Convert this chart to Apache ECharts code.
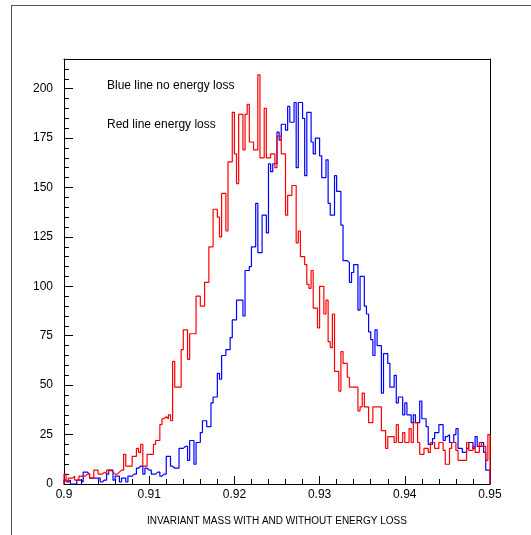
<!DOCTYPE html>
<html>
<head>
<meta charset="utf-8">
<script src="https://cdn.jsdelivr.net/npm/echarts@6/dist/echarts.min.js"></script>
<style>
html,body{margin:0;padding:0;background:#fff;}
#c{width:531px;height:535px;}
</style>
</head>
<body>
<div id="c"></div>
<script>
// Histogram: 200 bins from 0.9 to 0.95 (bin width 0.00025)
const binStart = 0.9;
const binEnd = 0.95;
const binCount = 200;
const xTickLabels = ['0.9', '0.91', '0.92', '0.93', '0.94', '0.95'];
const yTickLabels = ['0', '25', '50', '75', '100', '125', '150', '175', '200'];
const xTitle = 'INVARIANT MASS WITH AND WITHOUT ENERGY LOSS';
const noteBlue = 'Blue line no energy loss';
const noteRed = 'Red line energy loss';

// Blue: no energy loss
const blueCounts = [
  2,1,2,0,0,0,2,2,1,6, 6,5,3,3,3,3,3,1,2,2,
  5,7,7,2,4,4,1,3,3,1, 4,4,5,5,8,9,9,5,8,7,
  7,5,5,6,6,4,5,5,14,14, 9,8,8,8,18,18,19,19,12,22,
  22,10,21,21,26,32,32,29,29,41, 44,44,56,53,65,65,68,68,74,83,
  83,93,93,93,85,108,108,110,120,120, 142,117,117,136,136,127,162,158,162,162,
  178,174,182,182,179,191,183,183,193,160, 193,193,185,156,188,188,173,167,175,175,
  166,155,155,164,142,136,136,156,148,148, 131,113,113,112,102,107,111,111,88,105,
  105,90,86,77,73,65,78,70,70,46, 66,66,61,49,49,55,41,44,44,35,
  41,35,35,31,35,31,31,42,33,33, 29,20,20,23,26,26,30,30,22,24,
  25,21,21,25,28,18,18,16,16,18, 21,21,18,24,19,19,21,16,7,7
];

// Red: with energy loss
const redCounts = [
  5,1,3,3,4,2,2,4,4,4, 5,5,3,3,7,7,5,5,6,5,
  7,7,6,5,5,6,7,7,15,9, 9,9,14,14,18,16,20,9,9,15,
  15,15,20,22,22,30,33,34,33,35, 32,62,49,49,49,68,78,78,63,76,
  76,76,95,95,90,90,102,102,120,120, 139,139,135,125,147,147,128,163,163,188,
  167,152,187,187,169,187,192,173,173,169, 169,207,165,165,190,165,165,167,167,160,
  176,176,167,167,136,146,146,151,151,122, 128,115,115,111,101,99,108,89,89,79,
  100,100,86,93,72,69,86,57,57,47, 67,61,61,54,49,49,49,49,37,39,
  46,39,39,31,31,39,39,39,39,27, 27,18,24,24,24,21,30,21,21,26,
  21,21,28,21,31,31,21,15,15,18, 18,16,21,21,18,18,21,21,17,10,
  10,18,21,21,17,12,12,12,12,21, 17,17,19,16,16,21,19,19,12,25
];

function histPoints(counts) {
  const w = (binEnd - binStart) / binCount;
  const pts = [[binStart, 0]];
  for (let i = 0; i < counts.length; i++) {
    pts.push([+(binStart + i * w).toFixed(6), counts[i]]);
  }
  pts.push([binEnd, counts[counts.length - 1]]);
  pts.push([binEnd, 0]);
  return pts;
}

const FONT = 'Liberation Sans, Arial, Helvetica, sans-serif';
const chart = echarts.init(document.getElementById('c'), null, {renderer: 'canvas'});
function ls(c, w) { return {color: c, width: w}; }

chart.setOption({
  animation: false,
  backgroundColor: '#ffffff',
  grid: {left: 64, right: 41, top: 59, bottom: 51},
  xAxis: [{
    type: 'value', min: 0.9, max: 0.95, interval: 0.01, position: 'bottom',
    name: xTitle, nameLocation: 'middle', nameGap: 32,
    nameTextStyle: {fontFamily: FONT, fontSize: 10, color: '#000'},
    axisLine: {show: true, onZero: false, lineStyle: ls('#000', 1)},
    axisTick: {show: true, inside: true, length: 8, lineStyle: ls('#000', 1)},
    minorTick: {show: true, splitNumber: 5, length: 5, lineStyle: ls('#000', 1)},
    splitLine: {show: false},
    axisLabel: {
      fontFamily: FONT, fontSize: 12, color: '#000', margin: 5,
      formatter: function (v) {
        const idx = Math.round((v - 0.9) / 0.01);
        return xTickLabels[idx] !== undefined ? xTickLabels[idx] : '';
      }
    }
  }, {
    type: 'value', min: 0.9, max: 0.95, position: 'top',
    axisLine: {show: true, onZero: false, lineStyle: ls('#000', 1)},
    axisTick: {show: false}, axisLabel: {show: false}, splitLine: {show: false}
  }],
  yAxis: [{
    type: 'value', min: 0, max: 215, interval: 25, position: 'left',
    axisLine: {show: true, onZero: false, lineStyle: ls('#000', 1)},
    axisTick: {show: true, inside: true, length: 9, lineStyle: ls('#000', 1)},
    minorTick: {show: true, splitNumber: 5, length: 5, lineStyle: ls('#000', 1)},
    splitLine: {show: false},
    axisLabel: {
      fontFamily: FONT, fontSize: 12, color: '#000', margin: 11, showMaxLabel: false,
      formatter: function (v) {
        const idx = Math.round(v / 25);
        return (v % 25 === 0 && yTickLabels[idx] !== undefined) ? yTickLabels[idx] : '';
      }
    }
  }, {
    type: 'value', min: 0, max: 215, position: 'right',
    axisLine: {show: true, onZero: false, lineStyle: ls('#000', 1)},
    axisTick: {show: false}, axisLabel: {show: false}, splitLine: {show: false}
  }],
  series: [{
    type: 'line', step: 'end', showSymbol: false, symbol: 'none',
    xAxisIndex: 0, yAxisIndex: 0,
    lineStyle: {color: '#0000ff', width: 1.2}, itemStyle: {color: '#0000ff'},
    data: histPoints(blueCounts), z: 2
  }, {
    type: 'line', step: 'end', showSymbol: false, symbol: 'none',
    xAxisIndex: 0, yAxisIndex: 0,
    lineStyle: {color: '#ff0000', width: 1.2}, itemStyle: {color: '#ff0000'},
    data: histPoints(redCounts), z: 3
  }],
  graphic: [
    {type: 'line', shape: {x1: 11, y1: 5.5, x2: 531, y2: 5.5}, style: {stroke: '#555', lineWidth: 1}},
    {type: 'line', shape: {x1: 11.5, y1: 5, x2: 11.5, y2: 535}, style: {stroke: '#555', lineWidth: 1}},
    {type: 'text', left: 107, top: 80, style: {text: noteBlue, font: '12px ' + FONT, fill: '#000'}},
    {type: 'text', left: 107, top: 119, style: {text: noteRed, font: '12px ' + FONT, fill: '#000'}}
  ]
});
</script>
</body>
</html>
